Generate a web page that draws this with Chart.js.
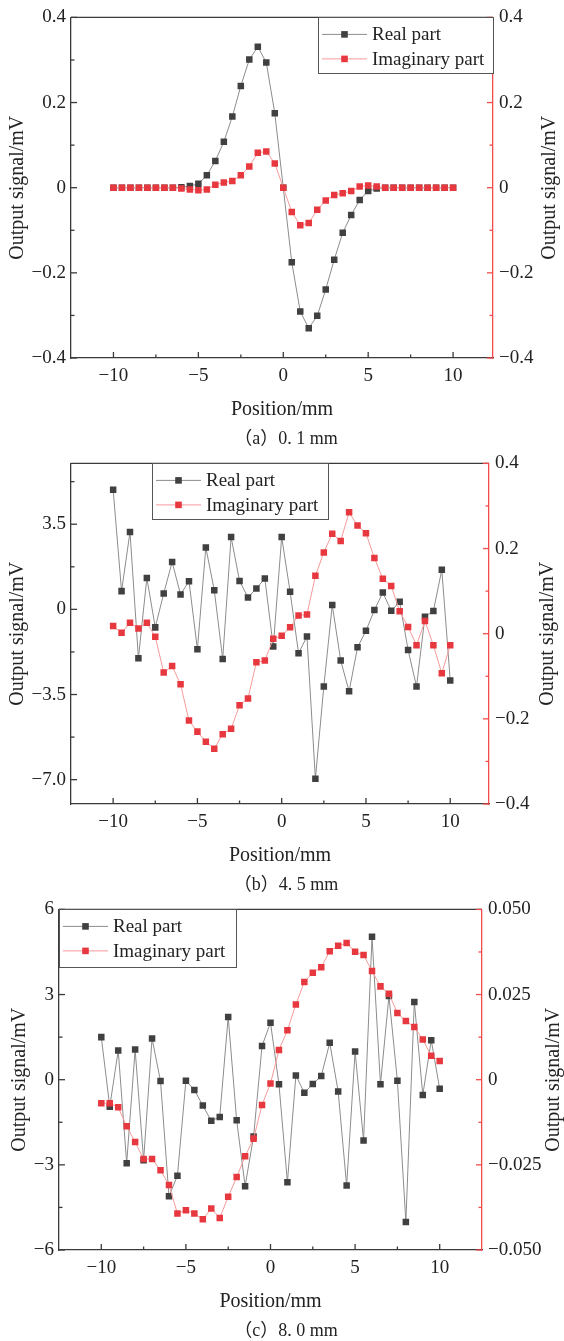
<!DOCTYPE html>
<html lang="en">
<head>
<meta charset="UTF-8">
<title>Output signal vs position</title>
<script src="https://cdn.jsdelivr.net/npm/chart.js"></script>
<style>
    body { margin: 0; background: #fff; }
    #page { position: relative; width: 564px; height: 1341px; overflow: hidden; background: #fff; }
    .panel { position: absolute; left: 0; }
    .caption {
        position: absolute;
        left: 0;
        width: 572px;
        text-align: center;
        font: 18px "Liberation Serif", "Noto Sans CJK SC", serif;
        line-height: 24px;
        color: #222;
    }
</style>
</head>
<body>
<div id="page">
    <canvas id="chartA" class="panel" width="564" height="446" style="top:0"></canvas>
    <div class="caption" style="top:426px">（a）0. 1 mm</div>
    <canvas id="chartB" class="panel" width="564" height="446" style="top:446px"></canvas>
    <div class="caption" style="top:872px">（b）4. 5 mm</div>
    <canvas id="chartC" class="panel" width="564" height="446" style="top:892px"></canvas>
    <div class="caption" style="top:1318px">（c）8. 0 mm</div>
</div>

<script>
// sensor position along the scan (mm)
const positions = [-10, -9.5, -9, -8.5, -8, -7.5, -7, -6.5, -6, -5.5, -5, -4.5, -4, -3.5, -3, -2.5, -2, -1.5, -1, -0.5,
                   0, 0.5, 1, 1.5, 2, 2.5, 3, 3.5, 4, 4.5, 5, 5.5, 6, 6.5, 7, 7.5, 8, 8.5, 9, 9.5, 10];

// (a) 0.1 mm
const realA = [0, 0, 0, 0, 0, 0, 0, 0, 0.001, 0.004, 0.009, 0.029, 0.063, 0.108, 0.167, 0.239, 0.301, 0.331, 0.294, 0.175,
               0, -0.175, -0.291, -0.330, -0.301, -0.239, -0.169, -0.106, -0.064, -0.029, -0.008, -0.002, 0, 0, 0, 0, 0, 0, 0, 0, 0];
const imagA = [0, 0, 0, 0, 0, 0, 0, 0, -0.002, -0.004, -0.006, -0.004, 0.007, 0.012, 0.016, 0.029, 0.050, 0.082, 0.085, 0.057,
               0, -0.057, -0.088, -0.083, -0.052, -0.030, -0.017, -0.013, -0.008, 0.003, 0.005, 0.003, 0, 0, 0, 0, 0, 0, 0, 0, 0];

// (b) 4.5 mm
const realB = [4.92, 0.75, 3.18, -2.01, 1.29, -0.74, 0.65, 1.95, 0.61, 1.16, -1.64, 2.54, 0.79, -2.04, 2.97, 1.17, 0.49, 0.86, 1.27, -1.53,
               2.97, 0.72, -1.80, -1.12, -6.96, -3.17, 0.18, -2.10, -3.37, -1.56, -0.88, -0.03, 0.69, -0.06, 0.31, -1.67, -3.17, -0.30, -0.07, 1.63, -2.92];
const imagB = [0.018, 0.002, 0.026, 0.012, 0.026, -0.007, -0.091, -0.076, -0.119, -0.204, -0.230, -0.254, -0.270, -0.236, -0.223, -0.168, -0.152, -0.067, -0.063, -0.012,
               -0.005, 0.015, 0.043, 0.045, 0.136, 0.191, 0.235, 0.218, 0.285, 0.254, 0.236, 0.178, 0.129, 0.112, 0.053, 0.016, -0.027, 0.030, -0.027, -0.093, -0.027];

// (c) 8.0 mm
const realC = [1.50, -0.95, 1.03, -2.94, 1.06, -2.84, 1.45, -0.05, -4.11, -3.38, -0.04, -0.36, -0.91, -1.45, -1.31, 2.21, -1.43, -3.75, -2.00, 1.19,
               2.01, -0.16, -3.61, 0.15, -0.46, -0.15, 0.13, 1.30, -0.42, -3.73, 0.99, -2.14, 5.04, -0.16, 2.95, -0.04, -5.01, 2.74, -0.54, 1.39, -0.32];
const imagC = [-0.0069, -0.0069, -0.0081, -0.0137, -0.0183, -0.0233, -0.0233, -0.0266, -0.0309, -0.0393, -0.0383, -0.0393, -0.0410, -0.0378, -0.0406, -0.0344, -0.0286, -0.0225, -0.0173, -0.0074,
               -0.0011, 0.0087, 0.0145, 0.0221, 0.0287, 0.0314, 0.0330, 0.0377, 0.0393, 0.0401, 0.0376, 0.0366, 0.0319, 0.0274, 0.0252, 0.0196, 0.0172, 0.0155, 0.0118, 0.0070, 0.0055];

// ticks
const xTicks = [-10, -5, 0, 5, 10];
const xLabels = ['\u221210', '\u22125', '0', '5', '10'];
const xMinor = [-7.5, -2.5, 2.5, 7.5];

const ticksA = [-0.4, -0.2, 0, 0.2, 0.4];
const labelsA = ['\u22120.4', '\u22120.2', '0', '0.2', '0.4'];
const minorA = [-0.3, -0.1, 0.1, 0.3];

const leftTicksB = [-7, -3.5, 0, 3.5];
const leftLabelsB = ['\u22127.0', '\u22123.5', '0', '3.5'];
const leftMinorB = [-5.25, -1.75, 1.75, 5.25];

const leftTicksC = [-6, -3, 0, 3, 6];
const leftLabelsC = ['\u22126', '\u22123', '0', '3', '6'];
const leftMinorC = [-4.5, -1.5, 1.5, 4.5];
const rightTicksC = [-0.05, -0.025, 0, 0.025, 0.05];
const rightLabelsC = ['\u22120.050', '\u22120.025', '0', '0.025', '0.050'];
const rightMinorC = [-0.0375, -0.0125, 0.0125, 0.0375];

const SERIF = '"Liberation Serif", "DejaVu Serif", serif';
const AXIS = '#3a3a3a';
const RED_AXIS = '#f24b4b';
const REAL_LINE = '#8c8c8c';
const REAL_MARK = '#404040';
const IMAG_LINE = '#f59a9a';
const IMAG_MARK = '#e8383f';

// inward ticks, top frame, boxed legend and right-hand title (Origin look)
const originFrame = {
    id: 'originFrame',
    afterDraw(chart, args, opts) {
        const ctx = chart.ctx;
        const {left, right, top, bottom} = chart.chartArea;
        const sx = chart.scales.x, yl = chart.scales.y, yr = chart.scales.y1;
        ctx.save();

        ctx.lineWidth = 1.3;
        ctx.strokeStyle = AXIS;
        ctx.beginPath();
        ctx.moveTo(left, top);
        ctx.lineTo(right, top);
        ctx.stroke();

        const drawTicks = (vals, len, fn) => {
            vals.forEach(v => { ctx.beginPath(); fn(v, len); ctx.stroke(); });
        };
        const xMaj = sx.ticks.map(t => t.value);
        const hx = (v, len) => { const p = sx.getPixelForValue(v); ctx.moveTo(p, bottom); ctx.lineTo(p, bottom - len); };
        drawTicks(xMaj, 6, hx);
        drawTicks(opts.xMinor, 3.5, hx);

        const vl = (v, len) => { const p = yl.getPixelForValue(v); ctx.moveTo(left, p); ctx.lineTo(left + len, p); };
        drawTicks(yl.ticks.map(t => t.value), 6, vl);
        drawTicks(opts.leftMinor, 3.5, vl);

        ctx.strokeStyle = RED_AXIS;
        const vr = (v, len) => { const p = yr.getPixelForValue(v); ctx.moveTo(right, p); ctx.lineTo(right - len, p); };
        drawTicks(yr.ticks.map(t => t.value), 6, vr);
        drawTicks(opts.rightMinor, 3.5, vr);

        // legend
        const lg = opts.legend;
        const bx = lg.anchor === 'right' ? right - lg.w : left + lg.dx;
        const by = top;
        ctx.fillStyle = '#fff';
        ctx.fillRect(bx, by, lg.w, lg.h);
        ctx.strokeStyle = '#555';
        ctx.lineWidth = 1;
        ctx.strokeRect(Math.round(bx) + 0.5, Math.round(by) + 0.5, lg.w, lg.h);
        ctx.font = '19px ' + SERIF;
        ctx.textBaseline = 'middle';
        ctx.textAlign = 'left';
        chart.data.datasets.forEach((ds, i) => {
            const cy = by + 17 + i * 24.5;
            ctx.strokeStyle = ds.borderColor;
            ctx.lineWidth = 1;
            ctx.beginPath();
            ctx.moveTo(bx + 4, cy);
            ctx.lineTo(bx + 49, cy);
            ctx.stroke();
            ctx.fillStyle = ds.pointBackgroundColor;
            ctx.fillRect(bx + 26.5 - 3.3, cy - 3.3, 6.6, 6.6);
            ctx.fillStyle = '#222';
            ctx.fillText(ds.label, bx + 54, cy + 1);
        });

        // right axis title, read bottom to top like the left one
        ctx.translate(right + opts.rightTitleOffset, (top + bottom) / 2);
        ctx.rotate(-Math.PI / 2);
        ctx.textAlign = 'center';
        ctx.font = '20px ' + SERIF;
        ctx.fillStyle = '#222';
        ctx.fillText('Output signal/mV', 0, 0);
        ctx.restore();
    }
};

function pairs(xs, ys) {
    return xs.map((x, i) => ({x: x, y: ys[i]}));
}

function buildPanel(id, p) {
    const tickFont = {family: SERIF, size: 19};
    return new Chart(document.getElementById(id), {
        type: 'line',
        data: {
            datasets: [
                {
                    label: 'Real part',
                    data: pairs(positions, p.real),
                    yAxisID: 'y',
                    borderColor: REAL_LINE,
                    borderWidth: 1,
                    pointStyle: 'rect',
                    pointRadius: 4.6,
                    pointBorderWidth: 0,
                    pointBackgroundColor: REAL_MARK,
                    backgroundColor: REAL_MARK,
                    order: 2
                },
                {
                    label: 'Imaginary part',
                    data: pairs(positions, p.imag),
                    yAxisID: 'y1',
                    borderColor: IMAG_LINE,
                    borderWidth: 1,
                    pointStyle: 'rect',
                    pointRadius: 4.6,
                    pointBorderWidth: 0,
                    pointBackgroundColor: IMAG_MARK,
                    backgroundColor: IMAG_MARK,
                    order: 1
                }
            ]
        },
        options: {
            responsive: false,
            animation: false,
            devicePixelRatio: 1,
            events: [],
            layout: {padding: {top: 15, left: 0, right: 0, bottom: 0}},
            plugins: {
                legend: {display: false},
                tooltip: {enabled: false},
                originFrame: {
                    xMinor: xMinor,
                    leftMinor: p.leftMinor,
                    rightMinor: p.rightMinor,
                    legend: p.legend,
                    rightTitleOffset: p.rightTitleOffset
                }
            },
            scales: {
                x: {
                    type: 'linear',
                    min: p.xMin,
                    max: p.xMax,
                    afterBuildTicks: s => { s.ticks = xTicks.map(v => ({value: v})); },
                    afterFit: s => { s.height = 88; },
                    grid: {display: false, drawTicks: false},
                    border: {color: AXIS, width: 1.3},
                    ticks: {
                        autoSkip: false,
                        maxRotation: 0,
                        padding: 7,
                        color: '#222',
                        font: tickFont,
                        callback: (v, i) => xLabels[i]
                    },
                    title: {
                        display: true,
                        text: 'Position/mm',
                        color: '#222',
                        font: {family: SERIF, size: 20},
                        padding: {top: 0, bottom: 24}
                    }
                },
                y: {
                    type: 'linear',
                    position: 'left',
                    min: p.leftMin,
                    max: p.leftMax,
                    afterBuildTicks: s => { s.ticks = p.leftTicks.map(v => ({value: v})); },
                    afterFit: s => { s.width = p.leftWidth; },
                    grid: {display: false, drawTicks: false},
                    border: {color: AXIS, width: 1.3},
                    ticks: {
                        autoSkip: false,
                        padding: 5,
                        color: '#222',
                        font: tickFont,
                        callback: (v, i) => p.leftLabels[i]
                    },
                    title: {
                        display: true,
                        text: 'Output signal/mV',
                        color: '#222',
                        font: {family: SERIF, size: 20},
                        padding: {top: p.leftTitlePad, bottom: 0}
                    }
                },
                y1: {
                    type: 'linear',
                    position: 'right',
                    min: p.rightMin,
                    max: p.rightMax,
                    afterBuildTicks: s => { s.ticks = p.rightTicks.map(v => ({value: v})); },
                    afterFit: s => { s.width = p.rightWidth; },
                    grid: {display: false, drawTicks: false},
                    border: {color: RED_AXIS, width: 1.3},
                    ticks: {
                        autoSkip: false,
                        padding: 6,
                        color: '#222',
                        font: tickFont,
                        callback: (v, i) => p.rightLabels[i]
                    }
                }
            }
        },
        plugins: [originFrame]
    });
}

buildPanel('chartA', {
    real: realA, imag: imagA,
    xMin: -12.5, xMax: 12.35,
    leftMin: -0.4, leftMax: 0.4, leftTicks: ticksA, leftLabels: labelsA, leftMinor: minorA,
    rightMin: -0.4, rightMax: 0.4, rightTicks: ticksA, rightLabels: labelsA, rightMinor: minorA,
    leftWidth: 71, rightWidth: 71, leftTitlePad: 5.5, rightTitleOffset: 57,
    legend: {anchor: 'right', dx: 0, w: 175, h: 56}
});

buildPanel('chartB', {
    real: realB, imag: imagB,
    xMin: -12.5, xMax: 12.3,
    leftMin: -8, leftMax: 6, leftTicks: leftTicksB, leftLabels: leftLabelsB, leftMinor: leftMinorB,
    rightMin: -0.4, rightMax: 0.4, rightTicks: ticksA, rightLabels: labelsA, rightMinor: minorA,
    leftWidth: 71, rightWidth: 75, leftTitlePad: 5.5, rightTitleOffset: 59,
    legend: {anchor: 'left', dx: 81, w: 176, h: 56}
});

buildPanel('chartC', {
    real: realC, imag: imagC,
    xMin: -12.5, xMax: 12.5,
    leftMin: -6, leftMax: 6, leftTicks: leftTicksC, leftLabels: leftLabelsC, leftMinor: leftMinorC,
    rightMin: -0.05, rightMax: 0.05, rightTicks: rightTicksC, rightLabels: rightLabelsC, rightMinor: rightMinorC,
    leftWidth: 59, rightWidth: 82, leftTitlePad: 8, rightTitleOffset: 72,
    legend: {anchor: 'left', dx: 0, w: 177, h: 58}
});
</script>
</body>
</html>
